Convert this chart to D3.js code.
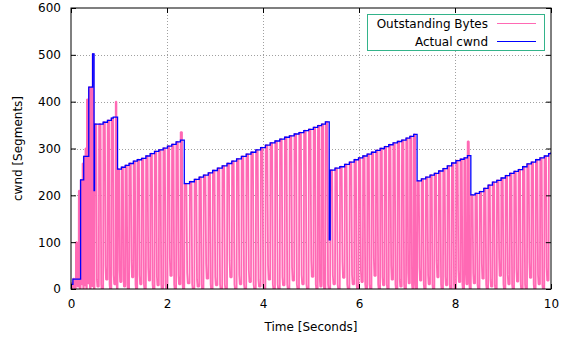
<!DOCTYPE html>
<html>
<head>
<meta charset="utf-8">
<script src="https://cdn.jsdelivr.net/npm/d3@7"></script>
<style>
  html, body { margin: 0; padding: 0; background: #fff; }
  svg { display: block; font-family: "DejaVu Sans", sans-serif; }
</style>
</head>
<body>
<div id="chart"></div>
<script>
// one entry per RTT round: time (s), cwnd (segments), outstanding peak, outstanding trough
const stepT = [
  0.00, 0.04, 0.10, 0.16, 0.20, 0.24, 0.265, 0.30, 0.33, 0.37, 0.41, 0.45, 0.48, 0.49,
  0.58, 0.67, 0.76, 0.84, 0.88, 0.93,
  0.97, 1.05, 1.13, 1.21, 1.30, 1.38, 1.47, 1.56, 1.65, 1.74, 1.83, 1.92, 2.01, 2.10, 2.19, 2.28,
  2.36, 2.47, 2.57, 2.67, 2.76, 2.86, 2.95, 3.05, 3.15, 3.25, 3.35, 3.45, 3.55, 3.65, 3.75, 3.85,
  3.95, 4.05, 4.15, 4.25, 4.35, 4.45, 4.55, 4.65, 4.75, 4.85, 4.95, 5.05, 5.14, 5.22, 5.30, 5.38,
  5.40, 5.50, 5.60, 5.70, 5.80, 5.90, 5.99, 6.08, 6.17, 6.26, 6.35, 6.44, 6.53, 6.62, 6.71, 6.80,
  6.89, 6.98, 7.06, 7.14,
  7.21, 7.30, 7.39, 7.48, 7.57, 7.66, 7.75, 7.84, 7.93, 8.02, 8.11, 8.19, 8.26,
  8.33, 8.42, 8.51, 8.60, 8.69, 8.78, 8.87, 8.96, 9.05, 9.14, 9.23, 9.32, 9.41, 9.50, 9.59, 9.68,
  9.77, 9.86, 9.95, 10.0
];
const cwnd = [
  10, 21, 21, 21, 233, 233, 283, 283, 283, 431, 431, 502, 210, 352,
  352, 356, 360, 365, 367, 367,
  256, 260, 264, 268, 273, 276, 279, 284, 289, 294, 297, 301, 305, 309, 314, 318,
  225, 229, 234, 239, 243, 248, 253, 258, 263, 268, 273, 278, 283, 288, 292, 297,
  302, 307, 312, 316, 320, 324, 327, 331, 334, 338, 341, 345, 349, 352, 357, 105,
  254, 258, 261, 266, 271, 276, 280, 284, 288, 292, 296, 300, 304, 308, 312, 315,
  318, 322, 326, 330,
  231, 235, 239, 243, 247, 252, 257, 263, 269, 274, 277, 280, 285,
  201, 204, 208, 215, 222, 228, 232, 237, 242, 247, 251, 255, 261, 267, 271, 276,
  280, 284, 289, 292
];
const outPeak = [
  12, 22, 100, 210, 233, 268, 283, 300, 405, 431, 431, 502, null, 352,
  352, 356, 360, 365, null, 400,
  256, 260, 264, 268, 273, 276, 279, 284, 289, 294, 297, 301, 305, 309, 314, 335,
  225, 229, 234, 239, 243, 248, 253, 258, 263, 268, 273, 278, 283, 288, 292, 297,
  302, 307, 312, 316, 320, 324, 327, 331, 334, 338, 341, 345, 349, 352, 357, null,
  254, 258, 261, 266, 271, 276, 280, 284, 288, 292, 296, 300, 304, 308, 312, 315,
  318, 322, 326, 330,
  231, 235, 239, 243, 247, 252, 257, 263, 269, 274, 277, 280, 315,
  201, 204, 208, 215, 222, 228, 232, 237, 242, 247, 251, 255, 261, 267, 271, 276,
  280, 284, 289, null
];
const outLow = [
  0, 2, 0, 5, 0, 10, 0, 8, 0, 12, 0, 6, 0, 0,
  5, 0, 20, 0, 0, 10,
  0, 15, 5, 0, 25, 0, 10, 0, 18, 0, 8, 0, 0, 28, 0, 10,
  0, 12, 0, 5, 0, 22, 0, 8, 0, 0, 25, 0, 10, 0, 15, 0,
  5, 0, 20, 0, 0, 8, 0, 18, 0, 10, 0, 26, 0, 5, 0, 0,
  0, 10, 0, 24, 0, 10, 0, 15, 0, 0, 28, 0, 8, 0, 20, 0,
  5, 0, 12, 0,
  0, 18, 0, 10, 0, 25, 0, 8, 0, 0, 15, 0, 10,
  0, 12, 0, 22, 0, 5, 0, 28, 0, 10, 0, 16, 0, 0, 24, 0,
  10, 0, 18, 0
];

const xTicks = [0, 2, 4, 6, 8, 10];
const yTicks = [0, 100, 200, 300, 400, 500, 600];
const seriesNames = ['Outstanding Bytes', 'Actual cwnd'];
const seriesColors = ['#ff69b4', '#0000ff'];

const W = 563, H = 337;
const m = { top: 8, right: 12, bottom: 48, left: 71 };

const svg = d3.select('#chart').append('svg')
  .attr('width', W).attr('height', H)
  .attr('viewBox', `0 0 ${W} ${H}`);

const x = d3.scaleLinear().domain([0, 10]).range([m.left, W - m.right]);
const y = d3.scaleLinear().domain([0, 600]).range([H - m.bottom, m.top]);

// grid
const grid = svg.append('g')
  .attr('stroke', '#a0a0a0').attr('stroke-width', 1).attr('stroke-dasharray', '1,2');
grid.selectAll('line.gx').data(xTicks.slice(1, -1)).join('line')
  .attr('class', 'gx')
  .attr('x1', (d) => Math.round(x(d)) + 0.5).attr('x2', (d) => Math.round(x(d)) + 0.5)
  .attr('y1', y(0)).attr('y2', y(600));
grid.selectAll('line.gy').data(yTicks.slice(1, -1)).join('line')
  .attr('class', 'gy')
  .attr('y1', (d) => Math.round(y(d)) + 0.5).attr('y2', (d) => Math.round(y(d)) + 0.5)
  .attr('x1', x(0)).attr('x2', x(10));

// outstanding: rise to peak, short hold, drop to the next trough
const cycles = stepT
  .map((t, i) => ({ t, peak: outPeak[i], low: outLow[i] }))
  .filter((c) => c.peak != null);
const pinkPts = [];
cycles.forEach((c, i) => {
  const nx = cycles[i + 1];
  const dt = nx ? nx.t - c.t : 0.1;
  const nextLow = nx ? nx.low : 0;
  pinkPts.push([c.t, c.low], [c.t + 0.06 * dt, c.peak], [c.t + 0.4 * dt, c.peak],
    [c.t + 0.55 * dt, nextLow * 2 + 10], [c.t + 0.66 * dt, nextLow]);
});
const clipId = 'plotclip';
svg.append('clipPath').attr('id', clipId).append('rect')
  .attr('x', x(0)).attr('y', y(600)).attr('width', x(10) - x(0)).attr('height', y(0) - y(600));

const plot = svg.append('g').attr('clip-path', `url(#${clipId})`);
plot.append('path')
  .datum(pinkPts.filter((p) => p[0] <= 10))
  .attr('fill', 'none')
  .attr('stroke', seriesColors[0])
  .attr('stroke-width', 1.8)
  .attr('stroke-linejoin', 'bevel')
  .attr('d', d3.line().x((d) => x(d[0])).y((d) => y(d[1])));

plot.append('path')
  .datum(stepT.map((t, i) => [t, cwnd[i]]))
  .attr('fill', 'none')
  .attr('stroke', seriesColors[1])
  .attr('stroke-width', 1.3)
  .attr('d', d3.line().curve(d3.curveStepAfter).x((d) => x(d[0])).y((d) => y(d[1])));

// axes with inward ticks, mirrored on top/right
const fontSize = '12px';
const axB = svg.append('g').attr('transform', `translate(0,${y(0)})`)
  .call(d3.axisBottom(x).tickValues(xTicks).tickSize(-5).tickPadding(10).tickFormat(d3.format('d')));
const axL = svg.append('g').attr('transform', `translate(${x(0)},0)`)
  .call(d3.axisLeft(y).tickValues(yTicks).tickSize(-5).tickPadding(10).tickFormat(d3.format('d')));
const axT = svg.append('g').attr('transform', `translate(0,${y(600)})`)
  .call(d3.axisTop(x).tickValues(xTicks).tickSize(-5).tickFormat(''));
const axR = svg.append('g').attr('transform', `translate(${x(10)},0)`)
  .call(d3.axisRight(y).tickValues(yTicks).tickSize(-5).tickFormat(''));
[axB, axL, axT, axR].forEach((g) => {
  g.select('.domain').remove();
  g.selectAll('line').attr('stroke', '#000');
  g.selectAll('text').attr('fill', '#000').style('font-size', fontSize)
    .style('font-family', '"DejaVu Sans", sans-serif');
});

svg.append('rect')
  .attr('x', x(0)).attr('y', y(600))
  .attr('width', x(10) - x(0)).attr('height', y(0) - y(600))
  .attr('fill', 'none').attr('stroke', '#000').attr('stroke-width', 1);

// axis titles
svg.append('text')
  .attr('x', (x(0) + x(10)) / 2).attr('y', 331)
  .attr('text-anchor', 'middle').style('font-size', fontSize)
  .text('Time [Seconds]');
svg.append('text')
  .attr('transform', `translate(22,${(y(0) + y(600)) / 2}) rotate(-90)`)
  .attr('text-anchor', 'middle').style('font-size', fontSize)
  .text('cwnd [Segments]');

// legend
const lg = svg.append('g');
lg.append('rect')
  .attr('x', 367.5).attr('y', 14.5).attr('width', 177).attr('height', 36)
  .attr('fill', '#fff').attr('stroke', '#33b38a').attr('stroke-width', 1);
seriesNames.forEach((name, i) => {
  const ly = 23.5 + i * 18;
  lg.append('text')
    .attr('x', 488).attr('y', ly).attr('dy', '0.35em')
    .attr('text-anchor', 'end').style('font-size', fontSize)
    .text(name);
  lg.append('line')
    .attr('x1', 497).attr('x2', 536).attr('y1', ly).attr('y2', ly)
    .attr('stroke', seriesColors[i]).attr('stroke-width', 1.2);
});
</script>
</body>
</html>
